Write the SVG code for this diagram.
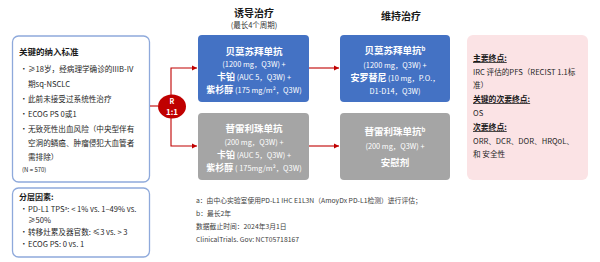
<svg xmlns="http://www.w3.org/2000/svg" width="600" height="262" viewBox="0 0 600 262">
<defs>
<marker id="arr" markerWidth="6" markerHeight="6" refX="5" refY="3" orient="auto" markerUnits="userSpaceOnUse"><path d="M0,0.5 L5,3 L0,5.5 Z" fill="#C00000"/></marker>
<style>
text{font-family:"Noto Sans CJK SC","Liberation Sans",sans-serif;}
.lb{fill:#fff;stroke:#8EA9DB;stroke-width:1.3;}
.t{font-size:7.6px;fill:#262626;}
.h{font-size:8.5px;font-weight:bold;fill:#1a1a1a;}
.w{fill:#fff;text-anchor:middle;}
.wb{font-weight:bold;font-size:9.5px;}
.wi{font-weight:bold;font-size:9px;}
.ws{font-size:7.4px;}
.hd{font-size:10px;font-weight:bold;fill:#1a1a1a;text-anchor:middle;}
.pk{font-size:7.6px;fill:#262626;}
.pu{font-size:7.8px;font-weight:bold;fill:#1a1a1a;text-decoration:underline;}
.fn{font-size:6.8px;fill:#404040;}
.c{stroke:#C00000;stroke-width:1.1;fill:none;}
</style>
</defs>

<g id="inclusion">
<rect class="lb" x="12.5" y="36" width="137" height="146" rx="6"/>
<text class="h" x="19" y="55">关键的纳入标准</text>
<text class="t" x="20" y="72">•</text><text class="t" x="28" y="72">≥18岁，经病理学确诊的IIIB-IV</text>
<text class="t" x="28" y="86.5">期sq-NSCLC</text>
<text class="t" x="20" y="101.5">•</text><text class="t" x="28" y="101.5">此前未接受过系统性治疗</text>
<text class="t" x="20" y="117">•</text><text class="t" x="28" y="117">ECOG PS 0或1</text>
<text class="t" x="20" y="132">•</text><text class="t" x="28" y="132">无致死性出血风险（中央型伴有</text>
<text class="t" x="28" y="146">空洞的鳞癌、肿瘤侵犯大血管者</text>
<text class="t" x="28" y="160">需排除）</text>
<text class="t" x="22" y="171.5" style="font-size:6px">(N = 570)</text>
</g>

<g id="stratification">
<rect class="lb" x="12.5" y="188" width="137" height="69" rx="6"/>
<text class="h" x="19" y="200" style="font-size:8px">分层因素:</text>
<text class="t" x="20" y="212">•</text><text class="t" x="28" y="212">PD-L1 TPS<tspan font-size="5" dy="-2.5">a</tspan><tspan dy="2.5">: &lt; 1% vs. 1–49% vs.</tspan></text>
<text class="t" x="28" y="223">≥50%</text>
<text class="t" x="20" y="235">•</text><text class="t" x="28" y="235">转移灶累及器官数: ≤3 vs. &gt; 3</text>
<text class="t" x="20" y="247">•</text><text class="t" x="28" y="247">ECOG PS: 0 vs. 1</text>
</g>

<g id="headers">
<text class="hd" x="254" y="17">诱导治疗</text>
<text x="254" y="28" style="font-size:7.5px;fill:#333;text-anchor:middle">(最长4个周期)</text>
<text class="hd" x="401" y="20">维持治疗</text>
</g>

<g id="connectors">
<line class="c" x1="150" y1="106" x2="158" y2="106"/>
<path class="c" d="M171,95 V68 H197" marker-end="url(#arr)"/>
<path class="c" d="M171,118 V146 H197" marker-end="url(#arr)"/>
<line class="c" x1="309" y1="68" x2="339" y2="68" marker-end="url(#arr)"/>
<line class="c" x1="309" y1="146" x2="339" y2="146" marker-end="url(#arr)"/>
</g>

<g id="randomize">
<ellipse cx="172" cy="106.5" rx="14" ry="12" fill="#C00000"/>
<text x="172" y="104" style="font-size:7px;font-weight:bold;fill:#fff;text-anchor:middle">R</text>
<text x="172" y="114.5" style="font-size:8px;font-weight:bold;fill:#fff;text-anchor:middle">1:1</text>
</g>

<g id="induction-exp">
<rect x="198" y="35" width="111" height="67" rx="4" fill="#4472C4"/>
<text class="w wb" x="254" y="54.5">贝莫苏拜单抗</text>
<text class="w ws" x="254" y="67">(1200 mg，Q3W)  +</text>
<text class="w" x="254" y="80"><tspan class="wi">卡铂</tspan><tspan class="ws">  (AUC 5，Q3W)  +</tspan></text>
<text class="w" x="254" y="93"><tspan class="wi">紫杉醇</tspan><tspan class="ws">  (175 mg/m²，Q3W)</tspan></text>
</g>

<g id="induction-ctrl">
<rect x="198" y="113" width="111" height="67" rx="4" fill="#A5A5A5"/>
<text class="w wb" x="254" y="132">替雷利珠单抗</text>
<text class="w ws" x="254" y="145">(200 mg，Q3W)  +</text>
<text class="w" x="254" y="157.5"><tspan class="wi">卡铂</tspan><tspan class="ws"> (AUC 5，Q3W)  +</tspan></text>
<text class="w" x="254" y="170.5"><tspan class="wi">紫杉醇</tspan><tspan class="ws">  ( 175mg/m²，Q3W)</tspan></text>
</g>

<g id="maint-exp">
<rect x="340" y="35" width="110" height="67" rx="4" fill="#4472C4"/>
<text class="w wb" x="395" y="54">贝莫苏拜单抗<tspan font-size="6" dy="-3">b</tspan></text>
<text class="w ws" x="395" y="68">(1200 mg，Q3W)  +</text>
<text class="w" x="395" y="81"><tspan class="wi">安罗替尼</tspan><tspan class="ws"> (10 mg，P.O.，</tspan></text>
<text class="w ws" x="395" y="94">D1-D14，Q3W)</text>
</g>

<g id="maint-ctrl">
<rect x="340" y="113" width="110" height="67" rx="4" fill="#A5A5A5"/>
<text class="w wb" x="395" y="135">替雷利珠单抗<tspan font-size="6" dy="-3">b</tspan></text>
<text class="w ws" x="395" y="149">(200 mg，Q3W)  +</text>
<text class="w wb" x="395" y="166">安慰剂</text>
</g>

<g id="endpoints">
<rect x="467" y="35" width="121" height="145" rx="6" fill="#FBE3E5"/>
<text class="pu" x="473" y="61">主要终点:</text>
<text class="pk" x="473" y="75">IRC 评估的PFS（RECIST 1.1标</text>
<text class="pk" x="473" y="88">准）</text>
<text class="pu" x="473" y="102">关键的次要终点:</text>
<text class="pk" x="473" y="116">OS</text>
<text class="pu" x="473" y="130">次要终点:</text>
<text class="pk" x="473" y="144">ORR、DCR、DOR、HRQoL、</text>
<text class="pk" x="473" y="157">和 安全性</text>
</g>

<g id="footnotes">
<text class="fn" x="196" y="203">a：由中心实验室使用PD-L1 IHC E1L3N（AmoyDx PD-L1检测）进行评估；</text>
<text class="fn" x="196" y="216">b：最长2年</text>
<text class="fn" x="196" y="229">数据截止时间：2024年3月1日</text>
<text class="fn" x="196" y="242">ClinicalTrials. Gov: NCT05718167</text>
</g>
</svg>
